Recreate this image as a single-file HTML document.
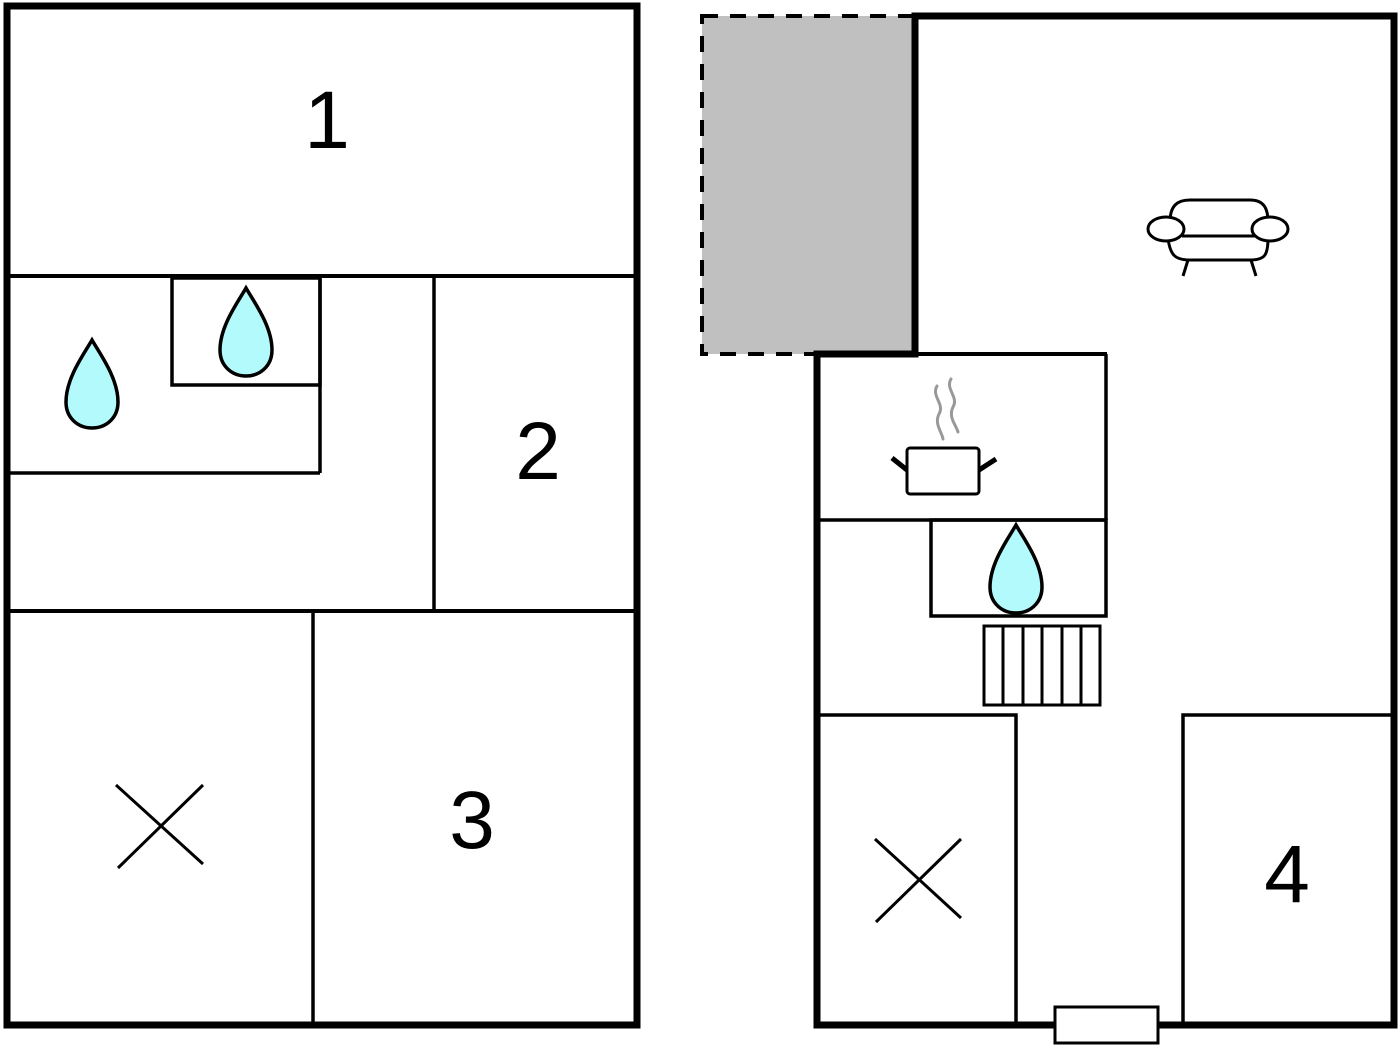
<!DOCTYPE html>
<html><head><meta charset="utf-8"><style>html,body{margin:0;padding:0;background:#fff}svg{display:block}</style></head>
<body>
<svg width="1400" height="1045" viewBox="0 0 1400 1045" xmlns="http://www.w3.org/2000/svg">
<defs>
<path id="drop" d="M0,0 C-8,14 -26,38 -26,62 C-26,78 -14,88 0,88 C14,88 26,78 26,62 C26,38 8,14 0,0 Z" fill="#b3fafc" stroke="#000" stroke-width="3.5"/>
</defs>
<!-- Left building -->
<g fill="none" stroke="#000">
<rect x="7" y="6" width="630" height="1019" stroke-width="7"/>
<line x1="7" y1="276" x2="637" y2="276" stroke-width="4"/>
<rect x="172" y="278" width="148" height="107" stroke-width="3.5"/>
<line x1="320" y1="278" x2="320" y2="473" stroke-width="3.5"/>
<line x1="7" y1="473" x2="320" y2="473" stroke-width="3.5"/>
<line x1="434" y1="278" x2="434" y2="611" stroke-width="3.5"/>
<line x1="7" y1="611" x2="637" y2="611" stroke-width="4"/>
<line x1="313" y1="611" x2="313" y2="1025" stroke-width="3.5"/>
<line x1="116" y1="785" x2="203" y2="864" stroke-width="3"/>
<line x1="203" y1="785" x2="118" y2="868" stroke-width="3"/>
</g>
<use href="#drop" x="92" y="340"/>
<use href="#drop" x="246" y="288"/>
<!-- Right building -->
<rect x="702" y="16" width="212" height="338" fill="#c0c0c0" stroke="#000" stroke-width="4" stroke-dasharray="16,12"/>
<g fill="none" stroke="#000">
<path d="M915,16 H1394 V1025 H817 V354 H915 Z" stroke-width="7" fill="#fff"/>
<line x1="915" y1="16" x2="915" y2="354" stroke-width="7"/>
<line x1="817" y1="354" x2="1107" y2="354" stroke-width="4"/>
<line x1="1106" y1="354" x2="1106" y2="520" stroke-width="3.5"/>
<line x1="820" y1="520" x2="1107" y2="520" stroke-width="3.5"/>
<rect x="931" y="520" width="175" height="96" stroke-width="3.5"/>
<rect x="984" y="626" width="116" height="79" stroke-width="3"/>
<line x1="1003" y1="626" x2="1003" y2="705" stroke-width="3"/>
<line x1="1023" y1="626" x2="1023" y2="705" stroke-width="3"/>
<line x1="1042" y1="626" x2="1042" y2="705" stroke-width="3"/>
<line x1="1062" y1="626" x2="1062" y2="705" stroke-width="3"/>
<line x1="1081" y1="626" x2="1081" y2="705" stroke-width="3"/>
<path d="M820,715 H1016 V1025" stroke-width="3.5"/>
<path d="M1394,715 H1183 V1025" stroke-width="3.5"/>
<line x1="875" y1="839" x2="961" y2="918" stroke-width="3"/>
<line x1="961" y1="839" x2="876" y2="922" stroke-width="3"/>
</g>
<rect x="1055" y="1007" width="103" height="36" fill="#fff" stroke="#000" stroke-width="3"/>
<use href="#drop" x="1016" y="525"/>
<!-- pot -->
<g fill="none" stroke="#000" stroke-width="3">
<rect x="907" y="448" width="72" height="46" rx="3"/>
<line x1="892" y1="458" x2="907" y2="470" stroke-width="5"/>
<line x1="979" y1="470" x2="996" y2="459" stroke-width="5"/>
</g>
<g fill="none" stroke="#999" stroke-width="3" stroke-linecap="round">
<path d="M937,386 C931,396 945,404 939,414 C934,424 942,432 943,439"/>
<path d="M951,379 C945,389 959,397 953,407 C948,417 956,425 958,432"/>
</g>
<!-- sofa -->
<g fill="#fff" stroke="#000" stroke-width="3">
<path d="M1170,222 C1170,205 1178,200 1190,200 H1250 C1262,200 1268,206 1268,222"/>
<path d="M1168,238 C1170,255 1175,260 1190,260 H1250 C1265,260 1268,255 1268,238"/>
<line x1="1182" y1="236" x2="1256" y2="236"/>
<ellipse cx="1166" cy="229" rx="18" ry="12"/>
<ellipse cx="1270" cy="229" rx="18" ry="12"/>
<line x1="1188" y1="260" x2="1183" y2="276"/>
<line x1="1251" y1="260" x2="1256" y2="276"/>
</g>
<g font-family="Liberation Sans, sans-serif" font-size="82" text-anchor="middle" fill="#000">
<text x="327" y="148">1</text>
<text x="538" y="479">2</text>
<text x="472" y="848">3</text>
<text x="1287" y="902">4</text>
</g>
</svg>
</body></html>
